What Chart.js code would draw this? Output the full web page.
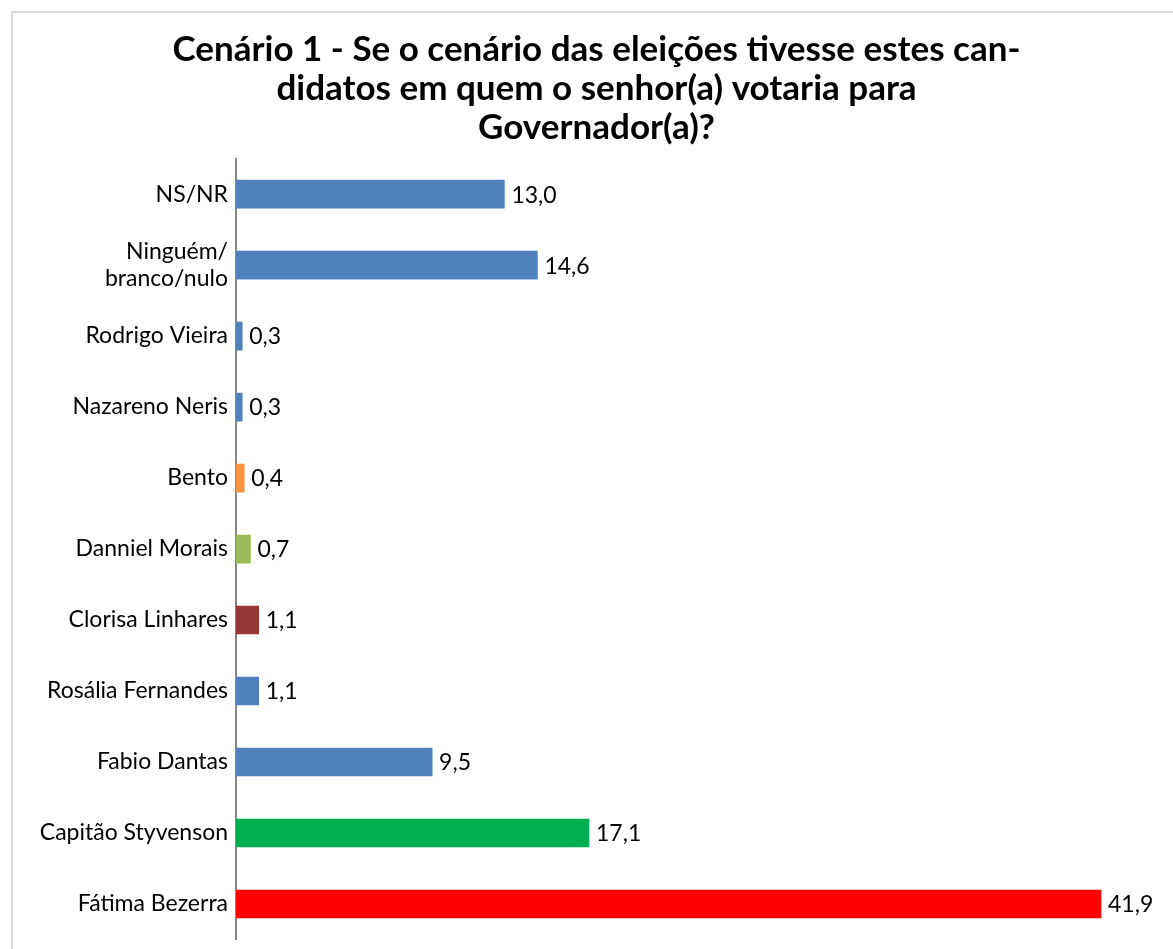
<!DOCTYPE html>
<html>
<head>
<meta charset="utf-8">
<script src="https://cdn.jsdelivr.net/npm/chart.js@4/dist/chart.umd.min.js"></script>
<style>
  body { margin: 0; background: #fff; overflow: hidden; }
  #frame { position: absolute; left: 11px; top: 11px; width: 1180px; height: 960px; border: 2px solid #d9d9d9; }
  #wrap { position: absolute; left: 0; top: 0; width: 1173px; height: 949px; }
</style>
</head>
<body>
<div id="frame"></div>
<div id="wrap"><canvas id="chartCanvas" width="1173" height="949"></canvas></div>
<script>
// Chart data
var candidates = ['NS/NR', ['Ninguém/', 'branco/nulo'], 'Rodrigo Vieira', 'Nazareno Neris', 'Bento', 'Danniel Morais', 'Clorisa Linhares', 'Rosália Fernandes', 'Fabio Dantas', 'Capitão Styvenson', 'Fátima Bezerra'];
var votes = [13.0, 14.6, 0.3, 0.3, 0.4, 0.7, 1.1, 1.1, 9.5, 17.1, 41.9];
var barColors = ['#4f81bd', '#4f81bd', '#4f81bd', '#4f81bd', '#f79646', '#9bbb59', '#953735', '#4f81bd', '#4f81bd', '#00b050', '#ff0000'];
var titleLines = ['Cenário 1 - Se o cenário das eleições tivesse estes can-', 'didatos em quem o senhor(a) votaria para', 'Governador(a)?'];

var fontFamily = 'Lato, "Open Sans", sans-serif';

// draw the value next to each bar, with a comma as decimal separator
var valueLabels = {
    id: 'valueLabels',
    afterDatasetsDraw: function (chart) {
        var ctx = chart.ctx;
        var meta = chart.getDatasetMeta(0);
        ctx.save();
        ctx.font = '23px ' + fontFamily;
        ctx.fillStyle = '#000';
        ctx.textBaseline = 'middle';
        ctx.textAlign = 'left';
        meta.data.forEach(function (bar, i) {
            ctx.fillText(votes[i].toFixed(1).replace('.', ','), bar.x + 7, bar.y + 1);
        });
        ctx.restore();
    }
};

function drawGraph(chartContextId) {
    var ctx = document.getElementById(chartContextId);

    new Chart(ctx, {
        type: 'bar',
        data: {
            labels: candidates,
            datasets: [{
                data: votes,
                backgroundColor: barColors,
                barThickness: 28
            }]
        },
        options: {
            indexAxis: 'y',
            responsive: false,
            animation: false,
            layout: { padding: { left: 28, right: 8, top: 0, bottom: 9.5 } },
            plugins: {
                legend: { display: false },
                tooltip: { enabled: false },
                title: {
                    display: true,
                    text: titleLines,
                    color: '#000',
                    font: { family: fontFamily, size: 35, weight: 'bold', lineHeight: 1.12 },
                    padding: { top: 30, bottom: 11 }
                }
            },
            scales: {
                x: {
                    display: false,
                    min: 0,
                    max: 45
                },
                y: {
                    grid: { display: false, drawTicks: false },
                    border: { display: true, color: '#868686', width: 2 },
                    ticks: {
                        color: '#000',
                        padding: 8,
                        font: { family: fontFamily, size: 23 }
                    },
                    afterFit: function (scale) {
                        scale.width = 208;
                        scale.paddingTop = 0;
                        scale.paddingBottom = 0;
                    }
                }
            }
        },
        plugins: [valueLabels]
    });
}

drawGraph('chartCanvas');
</script>
</body>
</html>
